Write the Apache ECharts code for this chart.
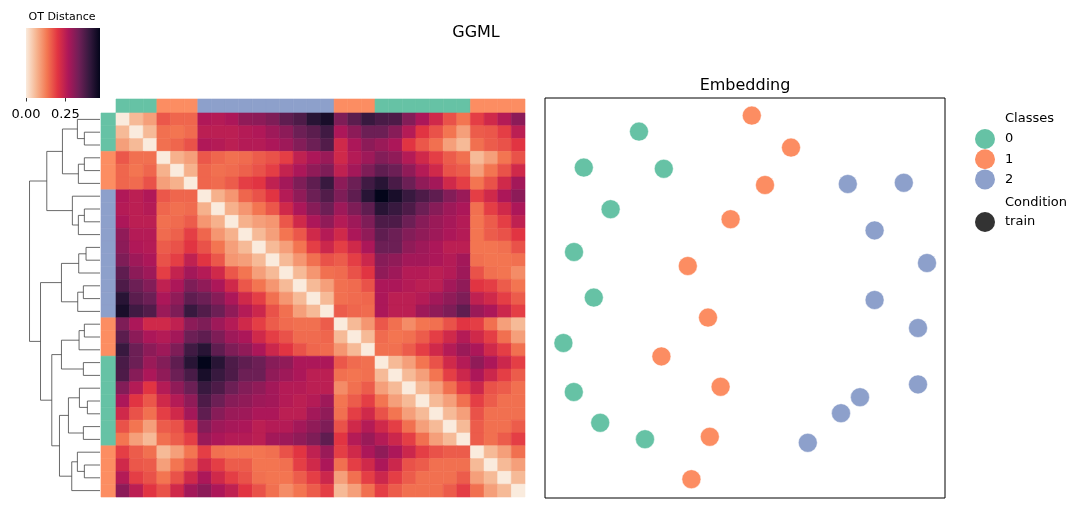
<!DOCTYPE html>
<html><head><meta charset="utf-8">
<script src="https://cdn.jsdelivr.net/npm/echarts@6/dist/echarts.min.js"></script>
<style>html,body{margin:0;padding:0;background:#fff}#c{width:1086px;height:508px}</style>
</head><body><div id="c"></div>
<script>
// ---------- data ----------
const classNames = ['0', '1', '2'];
const classColors = ['#66c2a5', '#fc8d62', '#8da0cb'];
// class of each leaf, in clustered (dendrogram) order
const leafClasses = [0,0,0,1,1,1,2,2,2,2,2,2,2,2,2,2,1,1,1,0,0,0,0,0,0,0,1,1,1,1];
// upper triangle of the OT distance matrix (row i holds columns i+1..29)
const distUpper = [
 [0.06,0.09,0.165,0.15,0.15,0.265,0.26,0.27,0.30,0.305,0.32,0.355,0.375,0.42,0.44,0.32,0.36,0.40,0.38,0.375,0.315,0.27,0.225,0.17,0.135,0.19,0.225,0.26,0.305],
 [0.06,0.14,0.135,0.145,0.25,0.25,0.25,0.26,0.265,0.285,0.305,0.34,0.36,0.39,0.27,0.305,0.34,0.34,0.31,0.26,0.20,0.17,0.135,0.09,0.16,0.165,0.19,0.25],
 [0.14,0.15,0.17,0.265,0.26,0.25,0.26,0.26,0.27,0.285,0.315,0.34,0.37,0.225,0.27,0.305,0.29,0.27,0.20,0.165,0.14,0.09,0.06,0.14,0.16,0.17,0.20],
 [0.07,0.09,0.165,0.15,0.14,0.145,0.16,0.17,0.19,0.245,0.27,0.29,0.225,0.26,0.285,0.315,0.30,0.26,0.225,0.19,0.16,0.14,0.06,0.09,0.135,0.17],
 [0.07,0.15,0.14,0.145,0.155,0.17,0.19,0.24,0.27,0.30,0.32,0.245,0.28,0.32,0.355,0.34,0.30,0.26,0.225,0.17,0.16,0.09,0.135,0.17,0.225],
 [0.15,0.145,0.16,0.19,0.20,0.245,0.28,0.32,0.355,0.40,0.305,0.34,0.39,0.42,0.38,0.34,0.30,0.28,0.225,0.19,0.135,0.17,0.225,0.28],
 [0.07,0.10,0.15,0.17,0.20,0.26,0.30,0.34,0.37,0.32,0.355,0.42,0.47,0.44,0.40,0.375,0.355,0.315,0.29,0.19,0.225,0.27,0.305],
 [0.07,0.10,0.135,0.165,0.225,0.27,0.31,0.34,0.285,0.32,0.355,0.42,0.40,0.375,0.34,0.31,0.285,0.27,0.14,0.19,0.225,0.27],
 [0.07,0.09,0.10,0.165,0.225,0.27,0.30,0.26,0.285,0.32,0.375,0.375,0.34,0.31,0.29,0.275,0.26,0.135,0.16,0.19,0.245],
 [0.06,0.09,0.135,0.165,0.225,0.26,0.225,0.27,0.30,0.355,0.34,0.315,0.30,0.285,0.27,0.26,0.135,0.16,0.17,0.20],
 [0.06,0.09,0.135,0.19,0.23,0.19,0.225,0.27,0.34,0.34,0.30,0.285,0.27,0.25,0.25,0.135,0.135,0.14,0.17],
 [0.06,0.10,0.14,0.17,0.16,0.19,0.23,0.31,0.30,0.28,0.28,0.27,0.26,0.28,0.14,0.135,0.135,0.14],
 [0.06,0.10,0.14,0.145,0.17,0.20,0.30,0.285,0.26,0.26,0.25,0.26,0.285,0.17,0.14,0.135,0.11],
 [0.06,0.09,0.14,0.145,0.17,0.27,0.27,0.26,0.25,0.25,0.28,0.30,0.20,0.19,0.16,0.135],
 [0.06,0.14,0.145,0.15,0.27,0.25,0.25,0.26,0.28,0.30,0.32,0.245,0.225,0.19,0.16],
 [0.16,0.15,0.145,0.27,0.25,0.25,0.285,0.30,0.32,0.355,0.29,0.27,0.23,0.19],
 [0.06,0.10,0.165,0.14,0.11,0.135,0.14,0.17,0.20,0.19,0.14,0.09,0.06],
 [0.06,0.145,0.135,0.14,0.16,0.19,0.225,0.26,0.225,0.19,0.14,0.09],
 [0.14,0.14,0.16,0.19,0.225,0.26,0.29,0.27,0.225,0.19,0.14],
 [0.06,0.09,0.135,0.17,0.225,0.26,0.30,0.27,0.23,0.19],
 [0.06,0.09,0.135,0.19,0.23,0.27,0.23,0.19,0.16],
 [0.06,0.09,0.14,0.19,0.23,0.17,0.16,0.14],
 [0.06,0.09,0.14,0.19,0.16,0.14,0.14],
 [0.06,0.09,0.17,0.14,0.14,0.14],
 [0.06,0.16,0.14,0.14,0.16],
 [0.16,0.14,0.16,0.19],
 [0.06,0.09,0.14],
 [0.06,0.09],
 [0.06]
];
// linkage (scipy style): [childA, childB, height]; ids >= 30 are earlier merges
const merges = [
 [1,2,0.222],[0,30,0.321],[3,4,0.222],[32,5,0.307],[31,33,0.533],
 [7,8,0.222],[35,9,0.307],[6,36,0.392],[34,37,0.755],
 [10,11,0.198],[39,12,0.302],[13,14,0.236],[41,15,0.316],[40,42,0.547],
 [16,17,0.222],[44,18,0.297],[19,20,0.236],[45,46,0.547],
 [22,23,0.179],[21,48,0.292],[24,25,0.236],[49,50,0.448],
 [27,28,0.222],[26,52,0.321],[53,29,0.401],[51,54,0.575],
 [47,55,0.684],[43,56,0.844],[38,57,1.0]
];
const cbMax = 0.47;
const cbTicks = [0, 0.25];
const rocketR = ['#faebdd','#f6b48f','#f37651','#e13342','#ad1759','#701f57','#35193e','#03051a'];
// embedding points per class
const embClass0 = [[23.5,91.6],[9.7,82.6],[29.7,82.3],[16.4,72.2],[7.25,61.5],[12.2,50.1],[4.6,38.75],[7.2,26.5],[13.8,18.8],[25.0,14.7]];
const embClass1 = [[51.7,95.6],[61.5,87.6],[55.0,78.25],[46.4,69.7],[35.7,58.0],[40.75,45.1],[29.1,35.4],[43.9,27.8],[41.2,15.3],[36.6,4.7]];
const embClass2 = [[75.7,78.5],[89.7,78.8],[82.4,66.9],[95.5,58.75],[82.4,49.5],[93.25,42.5],[93.25,28.4],[78.75,25.2],[74.0,21.2],[65.7,13.8]];
const conditionNames = ['train'];

// ---------- build ----------
const N = leafClasses.length;
const heatData = [];
for (let i = 0; i < N; i++) {
  for (let j = 0; j < N; j++) {
    let v;
    if (i === j) v = 0;
    else if (j > i) v = distUpper[i][j - i - 1];
    else v = distUpper[j][i - j - 1];
    heatData.push([j, i, v]);
  }
}
const cats = leafClasses.map((_, i) => String(i));
const colAnn = leafClasses.map((c, i) => [i, 0, c]);
const rowAnn = leafClasses.map((c, i) => [0, i, c]);

const pos = [], hgt = [];
for (let i = 0; i < N; i++) { pos.push(i + 0.5); hgt.push(0); }
const links = [];
merges.forEach(m => {
  const [a, b, h] = m;
  links.push([pos[a], hgt[a], pos[b], hgt[b], h]);
  pos.push((pos[a] + pos[b]) / 2); hgt.push(h);
});
const rootH = Math.max(...merges.map(m => m[2]));

const FONT = 'DejaVu Sans';
const chart = echarts.init(document.getElementById('c'), null, {renderer: 'canvas'});

function cellRender(colorFn) {
  return function (params, api) {
    const c = api.coord([api.value(0), api.value(1)]);
    const s = api.size([1, 1]);
    const col = colorFn(api);
    return {type: 'rect', shape: {x: c[0] - s[0] / 2, y: c[1] - s[1] / 2, width: s[0], height: s[1]},
      style: {fill: col, stroke: col, lineWidth: 0.6}};
  };
}
const stops = rocketR.map((c, i) => ({offset: i / (rocketR.length - 1), color: c}));
const legendText = {fontSize: 13, color: '#000', fontFamily: FONT, padding: [0, 0, 0, 5]};

const option = {
  animation: false,
  backgroundColor: '#fff',
  textStyle: {fontFamily: FONT},
  grid: [
    {left: 26, top: 28, width: 74, height: 70},
    {left: 26, top: 113, width: 74, height: 384},
    {left: 116, top: 99, width: 409, height: 14},
    {left: 101, top: 113, width: 15, height: 384},
    {left: 116, top: 113, width: 409, height: 384},
    {left: 545, top: 98, width: 400, height: 400, show: true, borderColor: '#000', borderWidth: 1, backgroundColor: 'transparent'}
  ],
  xAxis: [
    {gridIndex: 0, type: 'value', min: 0, max: cbMax, position: 'bottom',
     axisLine: {show: false}, splitLine: {show: false},
     axisTick: {show: true, length: 3.5, lineStyle: {color: '#000', width: 0.8}, customValues: cbTicks},
     axisLabel: {fontSize: 13, color: '#000', fontFamily: FONT, margin: 10, customValues: cbTicks, formatter: v => v.toFixed(2)}},
    {gridIndex: 1, type: 'value', inverse: true, min: 0, max: rootH * 1.05, show: false},
    {gridIndex: 2, type: 'category', data: cats, show: false},
    {gridIndex: 3, type: 'category', data: ['c'], show: false},
    {gridIndex: 4, type: 'category', data: cats, show: false},
    {gridIndex: 5, type: 'value', min: 0, max: 100, show: false}
  ],
  yAxis: [
    {gridIndex: 0, type: 'value', min: 0, max: 1, show: false},
    {gridIndex: 1, type: 'value', min: 0, max: N, inverse: true, show: false},
    {gridIndex: 2, type: 'category', data: ['c'], show: false},
    {gridIndex: 3, type: 'category', data: cats, inverse: true, show: false},
    {gridIndex: 4, type: 'category', data: cats, inverse: true, show: false},
    {gridIndex: 5, type: 'value', min: 0, max: 100, show: false}
  ],
  visualMap: [{type: 'continuous', show: false, min: 0, max: cbMax, dimension: 2, seriesIndex: 4, inRange: {color: rocketR}}],
  legend: [
    {data: classNames, orient: 'vertical', left: 970, top: 124, itemWidth: 20, itemHeight: 20, itemGap: 0.2,
     icon: 'circle', itemStyle: {borderWidth: 0, opacity: 1}, selectedMode: false, textStyle: legendText},
    {data: conditionNames, orient: 'vertical', left: 970, top: 207, itemWidth: 20, itemHeight: 20,
     icon: 'circle', itemStyle: {borderWidth: 0, opacity: 1, color: '#333'}, selectedMode: false, textStyle: legendText}
  ],
  graphic: [
    {type: 'text', x: 62, y: 17, style: {text: 'OT Distance', align: 'center', verticalAlign: 'middle', fontSize: 11, fontFamily: FONT, fill: '#000'}},
    {type: 'text', x: 476, y: 32.5, style: {text: 'GGML', align: 'center', verticalAlign: 'middle', fontSize: 16, fontFamily: FONT, fill: '#000'}},
    {type: 'text', x: 745, y: 85.5, style: {text: 'Embedding', align: 'center', verticalAlign: 'middle', fontSize: 16, fontFamily: FONT, fill: '#000'}},
    {type: 'text', x: 1005, y: 118.5, style: {text: 'Classes', align: 'left', verticalAlign: 'middle', fontSize: 13, fontFamily: FONT, fill: '#000'}},
    {type: 'text', x: 1005, y: 202.5, style: {text: 'Condition', align: 'left', verticalAlign: 'middle', fontSize: 13, fontFamily: FONT, fill: '#000'}}
  ],
  series: [
    {type: 'custom', xAxisIndex: 0, yAxisIndex: 0, silent: true, data: [[0, cbMax]],
     renderItem: (params, api) => {
       const p0 = api.coord([api.value(0), 1]);
       const p1 = api.coord([api.value(1), 0]);
       return {type: 'rect', shape: {x: p0[0], y: p0[1], width: p1[0] - p0[0], height: p1[1] - p0[1]},
         style: {fill: new echarts.graphic.LinearGradient(0, 0, 1, 0, stops)}};
     }},
    {type: 'custom', xAxisIndex: 1, yAxisIndex: 1, silent: true, data: links, encode: {x: [1, 3, 4], y: [0, 2]},
     renderItem: (params, api) => {
       const pA = api.value(0), hA = api.value(1), pB = api.value(2), hB = api.value(3), H = api.value(4);
       const pts = [api.coord([hA, pA]), api.coord([H, pA]), api.coord([H, pB]), api.coord([hB, pB])];
       return {type: 'polyline', shape: {points: pts}, style: {stroke: '#444', lineWidth: 0.8, fill: null}};
     }},
    {type: 'custom', xAxisIndex: 2, yAxisIndex: 2, silent: true, data: colAnn, encode: {x: 0, y: 1},
     renderItem: cellRender(api => classColors[api.value(2)])},
    {type: 'custom', xAxisIndex: 3, yAxisIndex: 3, silent: true, data: rowAnn, encode: {x: 0, y: 1},
     renderItem: cellRender(api => classColors[api.value(2)])},
    {type: 'custom', xAxisIndex: 4, yAxisIndex: 4, silent: true, data: heatData, encode: {x: 0, y: 1},
     renderItem: cellRender(api => api.visual('color'))},
    {type: 'scatter', name: classNames[0], xAxisIndex: 5, yAxisIndex: 5, data: embClass0, symbolSize: 19,
     itemStyle: {color: classColors[0], borderColor: '#fff', borderWidth: 0.5, opacity: 1}, silent: true},
    {type: 'scatter', name: classNames[1], xAxisIndex: 5, yAxisIndex: 5, data: embClass1, symbolSize: 19,
     itemStyle: {color: classColors[1], borderColor: '#fff', borderWidth: 0.5, opacity: 1}, silent: true},
    {type: 'scatter', name: classNames[2], xAxisIndex: 5, yAxisIndex: 5, data: embClass2, symbolSize: 19,
     itemStyle: {color: classColors[2], borderColor: '#fff', borderWidth: 0.5, opacity: 1}, silent: true},
    {type: 'scatter', name: conditionNames[0], xAxisIndex: 5, yAxisIndex: 5, data: [], symbolSize: 19,
     itemStyle: {color: '#333', opacity: 1}, silent: true}
  ]
};
chart.setOption(option);
</script>
</body></html>
